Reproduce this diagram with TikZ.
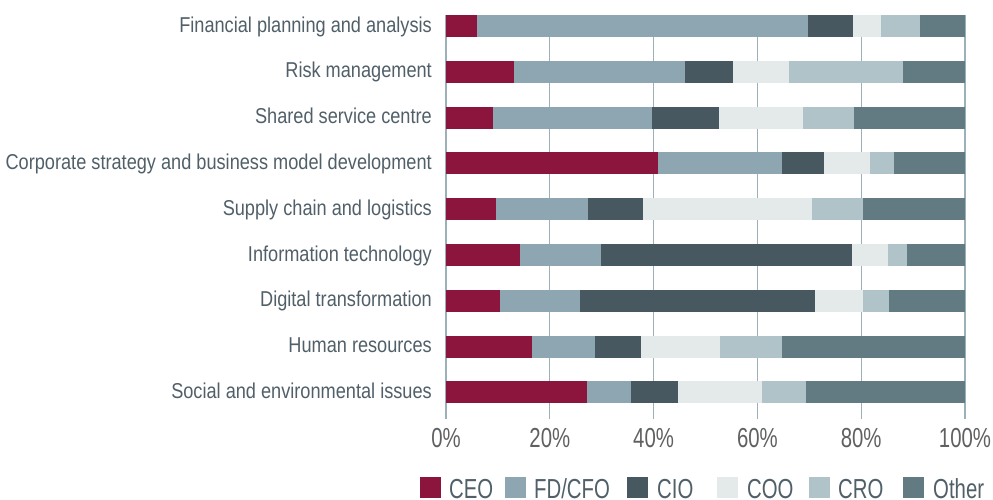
\documentclass[tikz,border=0pt]{standalone}
\usepackage{fontspec}
\usepackage{tikz}
\setmainfont{Liberation Sans}
\newfontfamily\catfont{Liberation Sans}[FakeStretch=0.845]
\newfontfamily\tickfont{Liberation Sans}[FakeStretch=0.74]
\definecolor{ceo}{RGB}{139,21,61}
\definecolor{cfo}{RGB}{142,166,177}
\definecolor{cio}{RGB}{71,88,96}
\definecolor{coo}{RGB}{228,234,234}
\definecolor{cro}{RGB}{176,195,200}
\definecolor{other}{RGB}{98,122,129}
\definecolor{gridcol}{RGB}{155,176,185}
\definecolor{labcol}{RGB}{80,95,104}
\definecolor{tickcol}{RGB}{95,96,98}
\tikzstyle{grid} = [draw=gridcol,line width=1.3pt]
\tikzstyle{cat} = [anchor=base east,inner sep=0pt,text=labcol,font=\catfont\fontsize{21.5}{24}\selectfont]
\tikzstyle{tick} = [anchor=base,inner sep=0pt,text=tickcol,font=\tickfont\fontsize{27.5}{30}\selectfont]
\tikzstyle{legtext} = [anchor=base west,inner sep=0pt,text=labcol,font=\tickfont\fontsize{27.5}{30}\selectfont]

\begin{document}
\begin{tikzpicture}[x=1pt,y=-1pt]
          \useasboundingbox (0,0) rectangle (993,499);
          % grid and axis
          \foreach \p in {0,20,...,100}{
            \draw[grid] ({446+5.19*\p},15) -- ({446+5.19*\p},419);
            \node[tick] (t\p) at ({446+5.19*\p},447.5) {\p\%};
          }
          % bars: cumulative shares
          \foreach \lab/\a/\b/\c/\d/\e [count=\i] in {
              Financial planning and analysis/5.9/69.8/78.5/83.9/91.4,
              Risk management/13.1/46.1/55.3/66.0/88.1,
              Shared service centre/9.1/39.7/52.6/68.8/78.7,
              Corporate strategy and business model development/40.9/64.8/72.9/81.7/86.4,
              Supply chain and logistics/9.6/27.4/38.0/70.6/80.4,
              Information technology/14.3/29.9/78.3/85.2/88.9,
              Digital transformation/10.4/25.8/71.1/80.4/85.4,
              Human resources/16.6/28.7/37.6/52.8/64.8,
              Social and environmental issues/27.2/35.7/44.7/60.8/69.4}{
            \pgfmathsetmacro{\yc}{26+45.8*(\i-1)}
            \fill[ceo] (446,\yc-11) rectangle ({446+5.19*\a},\yc+11);
            \fill[cfo] ({446+5.19*\a},\yc-11) rectangle ({446+5.19*\b},\yc+11);
            \fill[cio] ({446+5.19*\b},\yc-11) rectangle ({446+5.19*\c},\yc+11);
            \fill[coo] ({446+5.19*\c},\yc-11) rectangle ({446+5.19*\d},\yc+11);
            \fill[cro] ({446+5.19*\d},\yc-11) rectangle ({446+5.19*\e},\yc+11);
            \fill[other] ({446+5.19*\e},\yc-11) rectangle (965,\yc+11);
            \node[cat] (cat\i) at (432,\yc+6) {\lab};
          }
          % legend
          \fill[ceo] (420,477) rectangle ++(21,21);
          \node[legtext] (lceo) at (449,498.5) {CEO};
          \fill[cfo] (505,477) rectangle ++(21,21);
          \node[legtext] (lcfo) at (534,498.5) {FD/CFO};
          \fill[cio] (627,477) rectangle ++(21,21);
          \node[legtext] (lcio) at (657,498.5) {CIO};
          \fill[coo] (717,477) rectangle ++(21,21);
          \node[legtext] (lcoo) at (747,498.5) {COO};
          \fill[cro] (808.5,477) rectangle ++(21,21);
          \node[legtext] (lcro) at (838,498.5) {CRO};
          \fill[other] (903,477) rectangle ++(21,21);
          \node[legtext] (loth) at (933,498.5) {Other};
        \end{tikzpicture}
\end{document}
